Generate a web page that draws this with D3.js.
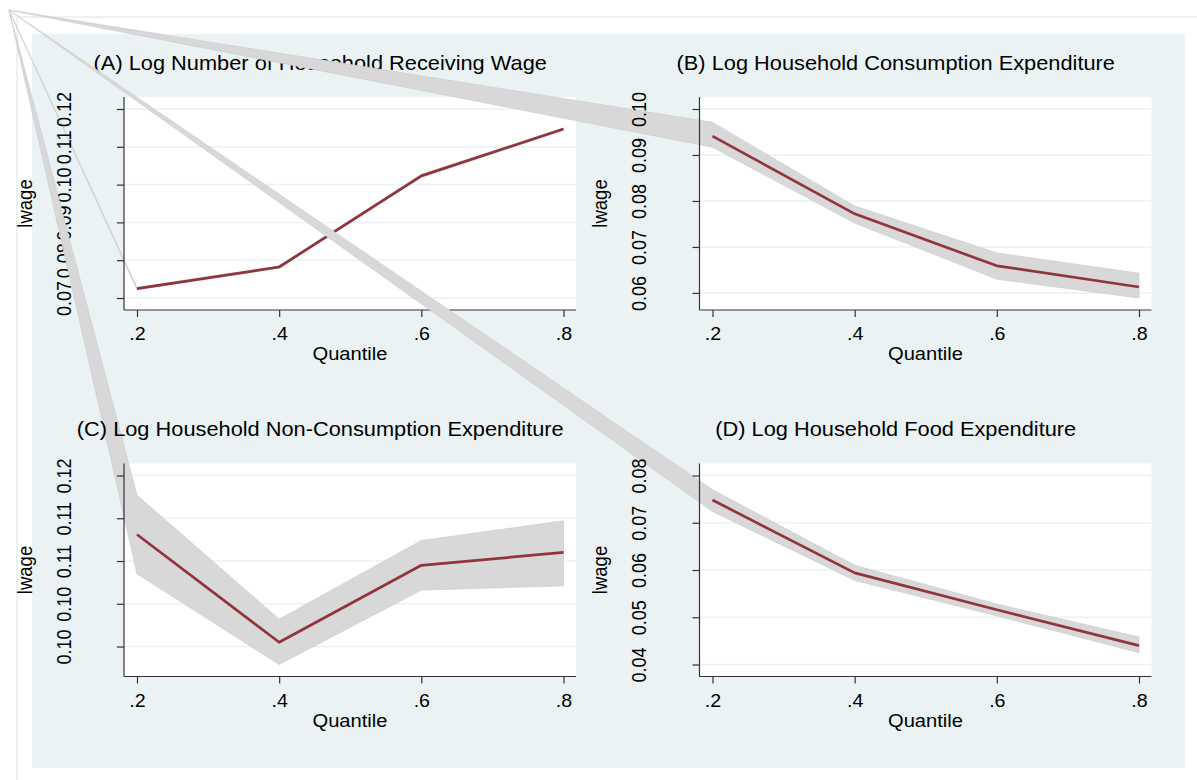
<!DOCTYPE html>
<head>
<meta charset="utf-8">
<style>
    body { margin: 0; background: #fff; }
    text { font-family: "Liberation Sans", Arial, Helvetica, sans-serif; fill: #000; }
    .band { fill: #d8d8d8; stroke: #cfcfcf; stroke-width: 0.8px; stroke-linejoin: round; }
    .est-line { fill: none; stroke: #90353b; stroke-width: 2.7px; stroke-linejoin: round; }
    .grid { stroke: #eaf2f3; stroke-width: 1.5px; }
    .frame { stroke: #e6eef0; stroke-width: 1.5px; }
    .axis-line { stroke: #333; stroke-width: 1.2px; }
</style>
</head>
<body>
<script src="https://d3js.org/d3.v7.min.js"></script>
<script>
// quantiles on the x axis
var quantiles = [0.2, 0.4, 0.6, 0.8];
var xTickLabels = [".2", ".4", ".6", ".8"];

var titles = [
    "(A) Log Number of Household Receiving Wage",
    "(B) Log Household Consumption Expenditure",
    "(C) Log Household Non-Consumption Expenditure",
    "(D) Log Household Food Expenditure"
];

// (A) number of households receiving wage
var estA   = [0.0725, 0.0782, 0.1023, 0.1147];
var upperA = [0.0728, 0.0785, 0.1027, 0.1150];
var lowerA = [0.0722, 0.0779, 0.1019, 0.1144];
var yTicksA = [0.07, 0.08, 0.09, 0.10, 0.11, 0.12];
var yLabelsA = ["0.07", "0.08", "0.09", "0.10", "0.11", "0.12"];

// (B) consumption expenditure
var estB   = [0.0941, 0.0772, 0.0659, 0.0613];
var upperB = [0.0971, 0.0789, 0.0687, 0.0643];
var lowerB = [0.0917, 0.0752, 0.0630, 0.0589];
var yTicksB = [0.06, 0.07, 0.08, 0.09, 0.10];
var yLabelsB = ["0.06", "0.07", "0.08", "0.09", "0.10"];

// (C) non-consumption expenditure
var estC   = [0.1131, 0.1005, 0.1095, 0.1110];
var upperC = [0.1177, 0.1032, 0.1124, 0.1147];
var lowerC = [0.1085, 0.0979, 0.1066, 0.1071];
var yTicksC = [0.10, 0.105, 0.11, 0.115, 0.12];
var yLabelsC = ["0.10", "0.10", "0.11", "0.11", "0.12"];

// (D) food expenditure
var estD   = [0.0748, 0.0594, 0.0516, 0.0440];
var upperD = [0.0770, 0.0610, 0.0528, 0.0458];
var lowerD = [0.0724, 0.0578, 0.0503, 0.0425];
var yTicksD = [0.04, 0.05, 0.06, 0.07, 0.08];
var yLabelsD = ["0.04", "0.05", "0.06", "0.07", "0.08"];

var panels = [
    {est: estA, upper: upperA, lower: lowerA, ticks: yTicksA, labels: yLabelsA},
    {est: estB, upper: upperB, lower: lowerB, ticks: yTicksB, labels: yLabelsB},
    {est: estC, upper: upperC, lower: lowerC, ticks: yTicksC, labels: yLabelsC},
    {est: estD, upper: upperD, lower: lowerD, ticks: yTicksD, labels: yLabelsD}
];

// layout (page pixels)
var width = 1197, height = 780;
var region = {left: 32, top: 34, right: 1185, bottom: 768};
var colX = [0, 575.5], rowY = [0, 366.5];
var plotBox = {left: 124, right: 576, top: 97, bottom: 310};
var apex = [9, 10];   // every band polygon is anchored back to this corner
var sx = 1.09;        // the source image is stretched a little horizontally

var svg = d3.select("body").append("svg")
    .attr("width", width)
    .attr("height", height);

// outer frame lines
svg.append("line").attr("class", "frame")
    .attr("x1", 17).attr("y1", 17).attr("x2", width).attr("y2", 17);
svg.append("line").attr("class", "frame")
    .attr("x1", 17).attr("y1", 17).attr("x2", 17).attr("y2", height);

// graph region
svg.append("rect")
    .attr("x", region.left).attr("y", region.top)
    .attr("width", region.right - region.left)
    .attr("height", region.bottom - region.top)
    .attr("fill", "#eaf2f3");

panels.forEach(function(p, i) {
    var ox = colX[i % 2], oy = rowY[Math.floor(i / 2)];
    var L = plotBox.left + ox, R = plotBox.right + ox,
        T = plotBox.top + oy, B = plotBox.bottom + oy;

    var x = d3.scaleLinear().domain([0.2, 0.8]).range([L + 13, R - 12.5]);
    var y = d3.scaleLinear()
        .domain(d3.extent(p.ticks.concat(p.upper, p.lower)))
        .range([B - 12, T + 12]);

    var g = svg.append("g");

    // plot region
    g.append("rect")
        .attr("x", L).attr("y", T)
        .attr("width", R - L).attr("height", B - T)
        .attr("fill", "#fff");

    g.selectAll(".grid")
        .data(p.ticks)
        .enter().append("line")
        .attr("class", "grid")
        .attr("x1", L).attr("x2", R)
        .attr("y1", function(d) { return y(d); })
        .attr("y2", function(d) { return y(d); });

    // confidence band, with the stray point at the corner
    var pts = [apex]
        .concat(quantiles.map(function(q, k) { return [x(q), y(p.upper[k])]; }))
        .concat(quantiles.map(function(q, k) { return [x(q), y(p.lower[k])]; }).reverse());
    g.append("path")
        .attr("class", "band")
        .attr("d", d3.line()(pts) + "Z");

    g.append("path")
        .datum(p.est)
        .attr("class", "est-line")
        .attr("d", d3.line()
            .x(function(d, k) { return x(quantiles[k]); })
            .y(function(d) { return y(d); }));

    // axis lines
    g.append("line").attr("class", "axis-line")
        .attr("x1", L).attr("x2", L).attr("y1", T).attr("y2", B);
    g.append("line").attr("class", "axis-line")
        .attr("x1", L).attr("x2", R).attr("y1", B).attr("y2", B);

    // y axis
    var ya = g.append("g")
        .attr("transform", "translate(" + L + ",0)")
        .call(d3.axisLeft(y).tickValues(p.ticks).tickSize(7).tickSizeOuter(0)
            .tickFormat(function(d, k) { return p.labels[k]; }));
    ya.select(".domain").remove();
    ya.selectAll("line").attr("stroke", "#333").attr("stroke-width", 1.2);
    ya.selectAll("text")
        .attr("x", null).attr("dy", null)
        .attr("fill", "#000")
        .attr("font-size", 18)
        .attr("font-family", "Liberation Sans, Arial, sans-serif")
        .attr("text-anchor", "middle")
        .attr("transform", "translate(-53.5,0) scale(" + sx + ",1) rotate(-90)");

    // x axis
    var xa = g.append("g")
        .attr("transform", "translate(0," + B + ")")
        .call(d3.axisBottom(x).tickValues(quantiles).tickSize(7).tickSizeOuter(0)
            .tickFormat(function(d, k) { return xTickLabels[k]; }));
    xa.select(".domain").remove();
    xa.selectAll("line").attr("stroke", "#333").attr("stroke-width", 1.2);
    xa.selectAll("text")
        .attr("y", null).attr("dy", null)
        .attr("fill", "#000")
        .attr("font-size", 18)
        .attr("font-family", "Liberation Sans, Arial, sans-serif")
        .attr("transform", "translate(0,30) scale(" + sx + ",1)");

    // axis titles
    g.append("text")
        .attr("transform", "translate(" + ((L + R) / 2) + "," + (B + 50) + ") scale(" + sx + ",1)")
        .attr("font-size", 18.5)
        .style("text-anchor", "middle")
        .text("Quantile");

    g.append("text")
        .attr("transform", "translate(" + (L - 92.5) + "," + ((T + B) / 2) + ") scale(" + sx + ",1) rotate(-90)")
        .attr("font-size", 18.5)
        .style("text-anchor", "middle")
        .text("lwage");

    // panel title
    g.append("text")
        .attr("transform", "translate(" + (320.25 + ox) + "," + (69.5 + oy) + ") scale(" + sx + ",1)")
        .attr("font-size", 20)
        .style("text-anchor", "middle")
        .text(titles[i]);
});
</script>
</body>
